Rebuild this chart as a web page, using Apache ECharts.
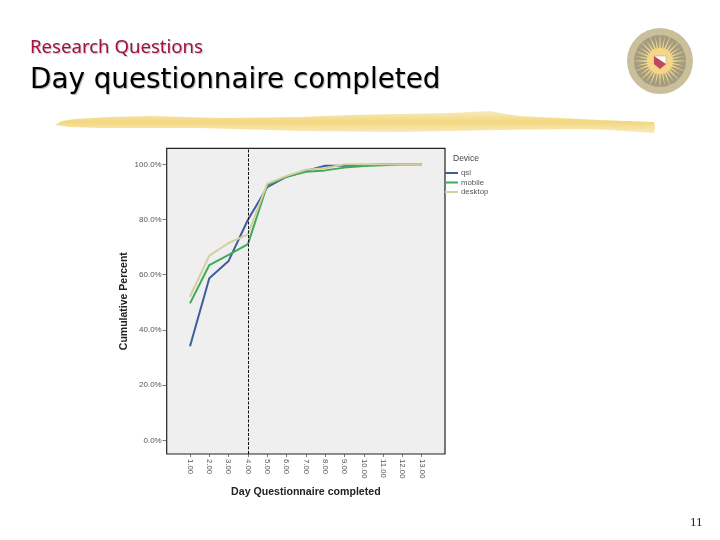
<!DOCTYPE html>
<html><head><meta charset="utf-8">
<style>html,body{margin:0;padding:0;background:#fff}#c{width:720px;height:540px}</style>
<script src="https://cdn.jsdelivr.net/npm/echarts@6/dist/echarts.min.js"></script>
</head><body><div id="c"></div>
<script>
const days = [1,2,3,4,5,6,7,8,9,10,11,12,13];
const qsl = [34.1,58.7,65,79.9,91.7,95.5,97.6,99.5,99.5,99.7,100,100,100];
const mobile = [49.6,63.5,67.2,71.1,92.5,95.5,97.3,97.8,98.8,99.4,99.7,100,100];
const desktop = [52,66.9,71.5,74.6,93,95.8,98,98.6,100,100,100,100,100];
const yTicks = [0,20,40,60,80,100];
const cutoffDay = 4;
const pair = a => a.map((v,i)=>[days[i],v]);
const font = '"Liberation Sans",Arial,sans-serif';

// logo
const cx=660, cy=61, logo=[];
logo.push({type:'circle',shape:{cx,cy,r:33},style:{fill:'#c9bf9b'}});
logo.push({type:'circle',shape:{cx,cy,r:26},style:{fill:'#a49c80'}});
const rays=32;
for(let i=0;i<rays;i++){
  const a=i/rays*Math.PI*2, da=0.085, r0=11, r1=i%2?25:29;
  logo.push({type:'polygon',shape:{points:[
    [cx+r0*Math.cos(a-da),cy+r0*Math.sin(a-da)],
    [cx+r1*Math.cos(a),cy+r1*Math.sin(a)],
    [cx+r0*Math.cos(a+da),cy+r0*Math.sin(a+da)]]},style:{fill:'#f0d68c'}});
}
logo.push({type:'circle',shape:{cx,cy,r:13},style:{fill:'#f6d686'}});
logo.push({type:'polygon',shape:{points:[[654,56],[666,56],[666,64],[660,69],[654,64]]},style:{fill:'#fff',stroke:'#b8a9a0',lineWidth:0.6}});
logo.push({type:'polygon',shape:{points:[[654,56],[666,64],[660,69],[654,64]]},style:{fill:'#c0485a'}});

const chart = echarts.init(document.getElementById('c'),null,{renderer:'canvas'});
chart.setOption({
  animation:false,
  backgroundColor:'#fff',
  grid:{left:166.7,top:148.3,width:278.3,height:305.7,show:true,backgroundColor:'#efefef',borderColor:'#222',borderWidth:1.2},
  xAxis:{type:'value',min:-0.207,max:14.207,
    name:'Day Questionnaire completed',nameLocation:'middle',nameGap:32,
    nameTextStyle:{fontFamily:font,fontWeight:'bold',fontSize:10.6,color:'#222'},
    axisLine:{show:false,onZero:false},splitLine:{show:false},
    axisTick:{show:true,length:3,customValues:days,lineStyle:{color:'#555',width:0.8}},
    axisLabel:{customValues:days,rotate:-90,fontFamily:font,fontSize:7.8,color:'#555',margin:5,formatter:v=>v.toFixed(2)}},
  yAxis:{type:'value',min:-4.96,max:105.8,
    name:'Cumulative Percent',nameLocation:'middle',nameGap:37,
    nameTextStyle:{fontFamily:font,fontWeight:'bold',fontSize:10.5,color:'#222'},
    axisLine:{show:false,onZero:false},splitLine:{show:false},
    axisTick:{show:true,length:4,customValues:yTicks,lineStyle:{color:'#555',width:0.8}},
    axisLabel:{customValues:yTicks,fontFamily:font,fontSize:8,color:'#555',margin:5,formatter:v=>v.toFixed(1)+'%'}},
  legend:{orient:'vertical',left:445,top:169,itemWidth:13,itemHeight:2,itemGap:1.5,padding:0,
    icon:'rect',
    textStyle:{fontFamily:font,fontSize:7.8,color:'#555',padding:[0,0,0,-2]},
    data:['qsl','mobile','desktop']},
  series:[
    {name:'qsl',type:'line',data:pair(qsl),symbol:'none',lineStyle:{color:'#3f5c9c',width:2},itemStyle:{color:'#3f5c9c'},
     markLine:{silent:true,symbol:'none',label:{show:false},lineStyle:{color:'#111',type:[3,1.5],width:1},data:[{xAxis:cutoffDay}]}},
    {name:'mobile',type:'line',data:pair(mobile),symbol:'none',lineStyle:{color:'#3eab5a',width:2},itemStyle:{color:'#3eab5a'}},
    {name:'desktop',type:'line',data:pair(desktop),symbol:'none',lineStyle:{color:'#d4cfa0',width:2},itemStyle:{color:'#d4cfa0'}}
  ],
  graphic:[
    {type:'text',left:453,top:154,style:{text:'Device',fontFamily:font,fontSize:8.5,fill:'#444'}},
    {type:'text',left:30,top:38,style:{text:'Research Questions',fontFamily:'"Noto Sans",sans-serif',fontSize:18.6,fill:'#a3123f',textShadowColor:'rgba(0,0,0,0.25)',textShadowOffsetX:1,textShadowOffsetY:1,textShadowBlur:1}},
    {type:'text',left:30,top:67,style:{text:'Day questionnaire completed',fontFamily:'"DejaVu Sans",sans-serif',fontSize:27.8,fill:'#000',textShadowColor:'rgba(0,0,0,0.3)',textShadowOffsetX:1,textShadowOffsetY:1,textShadowBlur:1}},
    {type:'polygon',shape:{points:[[55,125],[62,121],[75,119],[110,117],[150,116],[220,118],[300,117],[350,115],[400,114],[450,113],[490,111],[505,114],[520,116],[600,120],[654,122],[655,128],[654,133],[610,130],[580,129],[500,130],[400,132],[300,131],[200,128],[100,128],[70,127]]},
      style:{fill:{type:'linear',x:0,y:0,x2:0,y2:1,colorStops:[{offset:0,color:'#f9ebbd'},{offset:0.5,color:'#f3d77f'},{offset:1,color:'#f9ebbd'}]}}},
    ...logo,
    {type:'text',left:690,top:516,style:{text:'11',fontFamily:'"Liberation Serif",serif',fontSize:13,fill:'#222'}}
  ]
});
</script></body></html>
